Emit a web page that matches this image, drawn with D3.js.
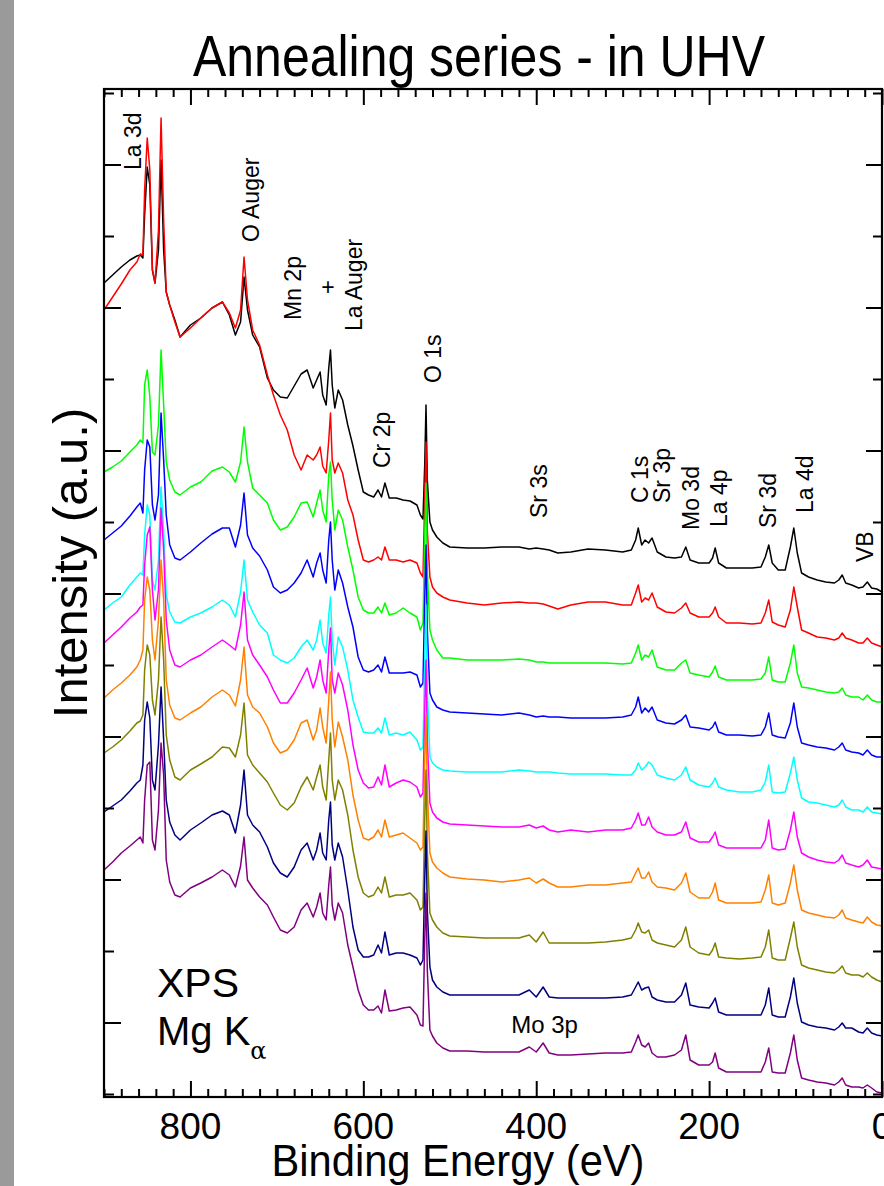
<!DOCTYPE html>
<html>
<head>
<meta charset="utf-8">
<script src="https://cdn.jsdelivr.net/npm/d3@7/dist/d3.min.js"></script>
<style>
  body { margin: 0; background: #fff; }
  svg { display: block; }
  text { font-family: "Liberation Sans", Arial, Helvetica, sans-serif; fill: #000; }
</style>
</head>
<body>
<div id="chart"></div>
<script>
// binding energy grid (eV) shared by all spectra
const energy = [
  900, 890, 880, 870, 862, 858, 855, 853, 850, 847, 844, 841, 837, 834, 831, 828, 824, 818, 812, 800,
  788, 775, 763, 755, 748, 742, 738, 734, 728, 720,
  711, 704, 696, 688, 680, 672, 665, 658, 654, 650, 647, 643, 640, 638, 636, 633, 629, 624, 618, 612,
  606, 600, 594, 588, 583, 579, 575, 570, 562, 554, 546, 538, 534, 531, 529, 527.5, 526, 523, 520, 515, 508,
  500, 480, 460, 440, 420, 408, 400, 392, 385, 375, 360, 340, 320, 300, 290, 285, 282, 278, 274, 270,
  266, 260, 250, 240, 232, 227, 222, 212, 200, 196, 193, 189, 180, 165, 150, 140, 135, 131, 127, 120,
  112, 106, 102, 98, 93, 85, 75, 65, 55, 50, 46, 42, 35, 27, 22, 17, 12, 6, 0
];

// intensities (a.u., stacked), one array per annealing step
const black = [
  814, 822, 830, 837, 841, 842, 839, 882, 930, 912, 827, 814, 847, 937, 847, 805, 792, 777, 760, 772,
  779, 789, 795, 782, 762, 775, 820, 787, 762, 750,
  719, 707, 700, 699, 711, 723, 727, 709, 717, 725, 702, 692, 729, 747, 712, 689, 707, 697, 672, 651,
  627, 605, 602, 600, 607, 600, 614, 599, 599, 597, 596, 592, 582, 578, 632, 692, 617, 575, 567, 560, 554,
  550, 549, 549, 550, 550, 548, 549, 548, 547, 544, 545, 548, 547, 545, 547, 557, 569, 552, 557, 554,
  559, 545, 540, 539, 540, 550, 537, 534, 534, 539, 549, 534, 529, 529, 529, 530, 540, 552, 534, 527,
  527, 550, 569, 544, 524, 520, 517, 515, 514, 517, 522, 514, 512, 509, 510, 515, 509, 508, 505
];
const red = [
  787, 800, 813, 827, 835, 843, 842, 907, 959, 927, 827, 814, 867, 979, 877, 805, 792, 775, 760, 769,
  779, 789, 795, 784, 769, 787, 840, 797, 767, 752,
  722, 702, 682, 667, 642, 627, 642, 637, 642, 650, 631, 624, 657, 684, 637, 624, 634, 624, 597, 582,
  557, 537, 535, 537, 540, 537, 550, 537, 537, 535, 537, 534, 524, 520, 597, 655, 567, 520, 510, 504, 500,
  497, 494, 492, 494, 495, 494, 494, 493, 491, 488, 492, 495, 495, 492, 492, 504, 512, 495, 499, 497,
  504, 490, 485, 484, 489, 494, 484, 480, 480, 484, 490, 480, 474, 474, 473, 474, 484, 497, 475, 472,
  470, 487, 510, 490, 467, 464, 460, 459, 457, 459, 464, 459, 457, 454, 454, 459, 454, 452, 450
];
const green = [
  625, 630, 636, 645, 652, 657, 654, 712, 727, 700, 645, 642, 672, 747, 692, 635, 617, 605, 602, 610,
  615, 626, 630, 625, 615, 635, 670, 635, 609, 602,
  594, 577, 567, 570, 580, 594, 595, 580, 594, 607, 587, 575, 622, 635, 597, 567, 587, 577, 550, 527,
  500, 487, 484, 484, 490, 484, 494, 482, 484, 489, 484, 480, 467, 474, 557, 614, 527, 467, 457, 447, 439,
  439, 437, 437, 437, 438, 437, 435, 435, 434, 434, 434, 434, 434, 433, 434, 444, 452, 437, 442, 440,
  447, 430, 427, 427, 434, 437, 424, 422, 420, 425, 431, 420, 417, 417, 417, 418, 424, 440, 417, 415,
  415, 434, 452, 424, 410, 409, 407, 405, 404, 405, 409, 402, 400, 400, 397, 402, 397, 395, 395
];
const blue = [
  557, 564, 571, 581, 590, 594, 584, 627, 657, 650, 592, 577, 602, 684, 637, 582, 552, 539, 537, 545,
  554, 563, 569, 569, 550, 572, 604, 562, 549, 541,
  527, 510, 504, 507, 514, 524, 537, 520, 534, 544, 527, 514, 557, 575, 537, 507, 527, 514, 490, 470,
  440, 427, 425, 427, 432, 425, 440, 424, 424, 424, 425, 422, 410, 414, 497, 552, 467, 404, 397, 390, 387,
  385, 384, 383, 382, 384, 382, 380, 381, 380, 380, 379, 379, 379, 380, 382, 390, 400, 384, 389, 385,
  390, 377, 374, 373, 377, 382, 370, 369, 367, 370, 375, 365, 362, 362, 361, 362, 370, 384, 362, 360,
  359, 374, 394, 370, 354, 352, 350, 349, 347, 350, 354, 347, 345, 344, 342, 347, 342, 340, 340
];
const cyan = [
  487, 494, 500, 512, 520, 524, 522, 562, 592, 582, 517, 507, 537, 610, 567, 502, 485, 475, 474, 480,
  484, 490, 497, 492, 480, 505, 537, 497, 485, 472,
  464, 442, 437, 434, 439, 450, 457, 447, 457, 477, 454, 444, 482, 500, 457, 432, 460, 450, 427, 397,
  380, 365, 364, 364, 369, 364, 379, 362, 364, 362, 365, 357, 347, 350, 437, 492, 407, 340, 334, 330, 327,
  326, 325, 325, 325, 327, 326, 325, 325, 325, 324, 323, 323, 323, 322, 322, 327, 334, 327, 330, 335,
  332, 322, 319, 317, 322, 330, 317, 312, 310, 314, 319, 310, 307, 305, 305, 307, 315, 332, 305, 304,
  305, 324, 340, 317, 299, 295, 294, 292, 290, 292, 297, 290, 287, 287, 285, 290, 285, 284, 283
];
const magenta = [
  454, 462, 470, 479, 485, 490, 492, 532, 562, 570, 507, 477, 507, 589, 547, 477, 447, 432, 430, 437,
  442, 450, 457, 452, 447, 472, 505, 457, 442, 432,
  420, 407, 394, 394, 404, 417, 429, 409, 420, 437, 417, 404, 447, 469, 417, 404, 424, 412, 387, 352,
  327, 314, 309, 310, 320, 312, 332, 310, 314, 317, 315, 310, 300, 304, 387, 437, 357, 294, 285, 279, 275,
  273, 272, 271, 270, 270, 272, 269, 271, 267, 265, 267, 265, 267, 267, 269, 277, 284, 272, 272, 280,
  270, 265, 262, 262, 265, 275, 259, 255, 255, 260, 265, 252, 249, 249, 249, 249, 257, 277, 249, 247,
  248, 267, 285, 260, 244, 240, 237, 235, 234, 237, 242, 234, 232, 230, 232, 237, 230, 229, 228
];
const orange = [
  399, 407, 414, 422, 430, 437, 447, 497, 520, 507, 457, 437, 477, 537, 497, 417, 392, 379, 377, 384,
  390, 400, 407, 402, 391, 417, 450, 402, 390, 384,
  370, 354, 344, 347, 357, 374, 377, 357, 367, 389, 370, 354, 397, 425, 377, 350, 375, 360, 337, 302,
  277, 259, 257, 260, 267, 260, 277, 260, 262, 264, 259, 254, 247, 250, 337, 382, 307, 244, 235, 229, 224,
  220, 218, 217, 215, 217, 219, 214, 218, 214, 210, 210, 212, 212, 214, 215, 224, 229, 219, 219, 225,
  215, 210, 209, 207, 214, 224, 205, 199, 199, 205, 214, 197, 194, 194, 194, 195, 207, 222, 194, 192,
  194, 214, 232, 207, 187, 184, 182, 180, 179, 182, 187, 179, 177, 175, 174, 180, 175, 172, 171
];
const olive = [
  344, 350, 357, 366, 374, 376, 382, 427, 452, 442, 397, 382, 417, 480, 437, 362, 337, 320, 317, 327,
  333, 340, 350, 349, 340, 362, 394, 342, 332, 324,
  315, 304, 292, 287, 294, 310, 320, 307, 320, 332, 310, 297, 337, 364, 317, 297, 317, 307, 282, 247,
  220, 204, 200, 202, 210, 204, 220, 200, 202, 202, 204, 197, 187, 190, 277, 327, 247, 184, 177, 170, 164,
  161, 160, 159, 159, 159, 162, 155, 165, 154, 154, 154, 154, 155, 157, 159, 167, 174, 165, 164, 167,
  157, 154, 152, 150, 157, 170, 150, 144, 142, 147, 154, 140, 139, 138, 139, 140, 150, 167, 139, 137,
  137, 159, 175, 150, 132, 129, 127, 125, 124, 127, 131, 124, 122, 122, 120, 124, 120, 117, 115
];
const navy = [
  285, 291, 297, 306, 314, 317, 332, 377, 395, 379, 317, 307, 352, 410, 357, 297, 275, 262, 257, 267,
  274, 282, 286, 282, 264, 292, 327, 282, 272, 265,
  250, 234, 224, 220, 230, 247, 254, 237, 247, 264, 244, 237, 277, 295, 252, 237, 254, 240, 207, 170,
  147, 140, 140, 142, 152, 144, 165, 142, 144, 144, 142, 139, 132, 137, 217, 266, 187, 130, 117, 110, 105,
  102, 102, 102, 102, 102, 107, 100, 110, 100, 99, 99, 99, 99, 100, 102, 110, 115, 107, 109, 110,
  100, 97, 95, 95, 102, 114, 92, 90, 89, 94, 99, 85, 82, 82, 82, 82, 92, 109, 82, 80,
  80, 100, 119, 94, 75, 72, 70, 69, 67, 70, 74, 69, 69, 65, 64, 69, 64, 62, 61
];
const purple = [
  227, 235, 244, 251, 257, 260, 254, 297, 332, 335, 257, 247, 287, 354, 322, 237, 215, 202, 200, 209,
  214, 220, 227, 222, 210, 231, 260, 217, 209, 200,
  192, 180, 167, 164, 170, 187, 194, 180, 190, 204, 184, 177, 212, 230, 192, 177, 194, 184, 152, 130,
  107, 92, 87, 87, 91, 84, 107, 86, 87, 89, 90, 82, 72, 71, 157, 204, 127, 67, 61, 54, 49,
  46, 46, 45, 45, 45, 50, 45, 54, 44, 42, 42, 43, 44, 44, 45, 55, 62, 52, 50, 54,
  44, 40, 40, 42, 47, 62, 37, 32, 32, 35, 44, 29, 25, 25, 25, 25, 35, 49, 25, 24,
  24, 44, 62, 37, 19, 17, 15, 14, 12, 15, 19, 12, 10, 10, 9, 12, 9, 5, 4
];

const spectra = [black, red, green, blue, cyan, magenta, orange, olive, navy, purple];
const colors = ['#000000', '#ff0000', '#00ff00', '#0000ff', '#00ffff',
                '#ff00ff', '#ff8000', '#808000', '#000080', '#800080'];

const xMajor = [800, 600, 400, 200, 0];
const xMinor = d3.range(0, 901, 20).filter(function(e) { return e % 200 !== 0; });
const yTicks = d3.range(15).map(function(i) { return 3 + i * 71.5; });

// peak assignments: [text, energy, intensity] at the start of the rotated text
const peakLabels = [
  ['La 3d', 857.5, 927], ['O Auger', 721, 855], ['Mn 2p', 672, 777], ['La Auger', 601, 766],
  ['Cr 2p', 569, 629], ['O 1s', 510.5, 714], ['Sr 3s', 387, 579], ['C 1s', 271, 594],
  ['Sr 3p', 245.5, 594], ['Mo 3d', 212, 567], ['La 4p', 179.5, 570], ['Sr 3d', 122.5, 569],
  ['La 4d', 80, 584], ['VB', 10.5, 535]
];

function drawChart() {
  const W = 884, H = 1186;
  const left = 104, right = 882, top = 89, bottom = 1097;

  const svg = d3.select('#chart').append('svg')
    .attr('width', W)
    .attr('height', H);

  svg.append('rect').attr('width', W).attr('height', H).attr('fill', '#fff');
  svg.append('rect').attr('x', 0).attr('y', 0).attr('width', 14).attr('height', H).attr('fill', '#9a9a9a');

  const x = d3.scaleLinear().domain([900, 0]).range([left, right]);
  const y = d3.scaleLinear().domain([0, 1008]).range([bottom, top]);

  const line = d3.line()
    .x(function(d) { return x(d[0]); })
    .y(function(d) { return y(d[1]); });

  svg.append('g')
    .selectAll('path')
    .data(spectra)
    .enter().append('path')
    .attr('fill', 'none')
    .attr('stroke', function(d, i) { return colors[i]; })
    .attr('stroke-width', 1.5)
    .attr('stroke-linejoin', 'round')
    .attr('d', function(d) { return line(energy.map(function(e, i) { return [e, d[i]]; })); });

  // axes: all ticks point inward
  function tickAxis(axis, transform) {
    const g = svg.append('g').attr('transform', transform).call(axis);
    g.select('.domain').remove();
    g.selectAll('line').attr('stroke', '#000').attr('stroke-width', 2);
    g.selectAll('text').remove();
  }
  tickAxis(d3.axisBottom(x).tickValues(xMinor).tickSize(-8), 'translate(0,' + bottom + ')');
  tickAxis(d3.axisBottom(x).tickValues(xMajor).tickSize(-16), 'translate(0,' + bottom + ')');
  tickAxis(d3.axisTop(x).tickValues(xMinor).tickSize(-8), 'translate(0,' + top + ')');
  tickAxis(d3.axisTop(x).tickValues(xMajor).tickSize(-16), 'translate(0,' + top + ')');

  const yShort = yTicks.filter(function(d, i) { return i % 2 === 0; });
  const yLong = yTicks.filter(function(d, i) { return i % 2 === 1; });
  tickAxis(d3.axisLeft(y).tickValues(yShort).tickSize(-10), 'translate(' + left + ',0)');
  tickAxis(d3.axisLeft(y).tickValues(yLong).tickSize(-17), 'translate(' + left + ',0)');
  tickAxis(d3.axisRight(y).tickValues(yShort).tickSize(-9), 'translate(' + right + ',0)');
  tickAxis(d3.axisRight(y).tickValues(yLong).tickSize(-16), 'translate(' + right + ',0)');

  svg.append('rect')
    .attr('x', left).attr('y', top)
    .attr('width', right - left).attr('height', bottom - top)
    .attr('fill', 'none').attr('stroke', '#000').attr('stroke-width', 2.2);

  svg.append('g').selectAll('text')
    .data(xMajor)
    .enter().append('text')
    .attr('x', function(d) { return x(d); })
    .attr('y', 1139)
    .attr('text-anchor', 'middle')
    .attr('font-size', 37)
    .text(function(d) { return d; });

  svg.append('text')
    .attr('x', 458).attr('y', 1176)
    .attr('text-anchor', 'middle')
    .attr('font-size', 45)
    .attr('textLength', 373).attr('lengthAdjust', 'spacingAndGlyphs')
    .text('Binding Energy (eV)');

  svg.append('text')
    .attr('transform', 'translate(87,563) rotate(-90)')
    .attr('text-anchor', 'middle')
    .attr('font-size', 49)
    .text('Intensity (a.u.)');

  svg.append('text')
    .attr('x', 479).attr('y', 76)
    .attr('text-anchor', 'middle')
    .attr('font-size', 58)
    .attr('textLength', 572).attr('lengthAdjust', 'spacingAndGlyphs')
    .text('Annealing series - in UHV');

  svg.append('g').selectAll('text')
    .data(peakLabels)
    .enter().append('text')
    .attr('transform', function(d) { return 'translate(' + x(d[1]) + ',' + y(d[2]) + ') rotate(-90)'; })
    .attr('font-size', 23)
    .text(function(d) { return d[0]; });

  svg.append('text')
    .attr('x', x(641)).attr('y', y(810))
    .attr('text-anchor', 'middle').attr('dy', '0.35em')
    .attr('font-size', 23)
    .text('+');

  svg.append('text')
    .attr('x', x(429)).attr('y', y(64))
    .attr('font-size', 24)
    .text('Mo 3p');

  svg.append('text')
    .attr('x', 157).attr('y', 997)
    .attr('font-size', 41)
    .text('XPS');

  const mg = svg.append('text')
    .attr('x', 157).attr('y', 1045)
    .attr('font-size', 40);
  mg.append('tspan').text('Mg K');
  mg.append('tspan')
    .attr('font-family', '"DejaVu Serif", serif')
    .attr('font-size', 24)
    .attr('dy', 14)
    .text('\u03b1');
}

drawChart();
</script>
</body>
</html>
